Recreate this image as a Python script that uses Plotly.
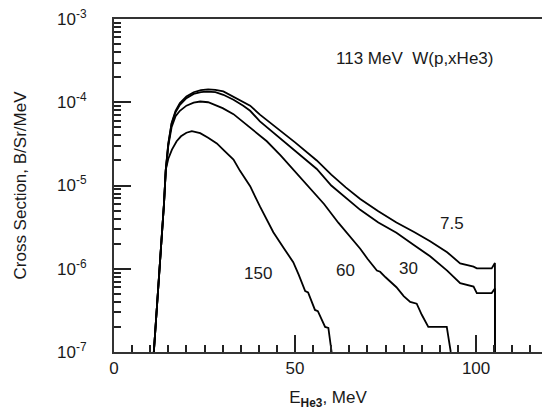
import plotly.graph_objects as go

# ---- data (E in MeV, cross section in B/Sr/MeV) ----
e_75 = [11.0, 12.0, 13.0, 13.8, 14.3, 15.0, 15.9, 17.0, 18.2, 20.0, 22.0, 24.0, 26.0, 28.0, 30.2,
        33.0, 35.7, 37.6, 40.3, 45.0, 50.0, 56.0, 60.0, 64.0, 68.0, 73.0, 78.0, 83.0, 87.3, 92.0,
        95.6, 99.3, 100.2, 104.3, 105.2, 105.2]
y_75 = [1.0e-7, 4.0e-7, 1.8e-6, 6.0e-6, 1.55e-5, 3.2e-5, 5.6e-5, 7.9e-5, 9.8e-5, 1.17e-4, 1.32e-4,
        1.40e-4, 1.43e-4, 1.41e-4, 1.35e-4, 1.17e-4, 1.02e-4, 9.1e-5, 7.1e-5, 4.9e-5, 3.3e-5,
        2.0e-5, 1.35e-5, 9.5e-6, 6.9e-6, 4.9e-6, 3.6e-6, 2.75e-6, 2.14e-6, 1.58e-6, 1.16e-6,
        1.06e-6, 1.01e-6, 1.01e-6, 1.17e-6, 1.0e-7]

e_30 = [11.0, 12.0, 13.0, 13.8, 14.3, 15.0, 15.9, 17.0, 18.2, 20.0, 22.0, 24.0, 25.6, 28.0, 30.2,
        33.0, 35.7, 37.6, 40.3, 45.0, 50.0, 56.0, 60.0, 64.0, 68.0, 73.0, 78.0, 83.0, 87.3, 92.0,
        95.6, 99.3, 100.2, 104.3, 105.2, 105.2]
y_30 = [1.0e-7, 4.0e-7, 1.8e-6, 6.0e-6, 1.55e-5, 3.15e-5, 5.5e-5, 7.6e-5, 9.3e-5, 1.12e-4, 1.26e-4,
        1.32e-4, 1.34e-4, 1.32e-4, 1.23e-4, 1.07e-4, 9.1e-5, 7.9e-5, 5.9e-5, 4.0e-5, 2.63e-5,
        1.58e-5, 1.0e-5, 7.1e-6, 5.1e-6, 3.6e-6, 2.7e-6, 1.9e-6, 1.41e-6, 9.5e-7, 6.7e-7,
        6.1e-7, 5.1e-7, 5.1e-7, 5.8e-7, 1.0e-7]

e_60 = [11.0, 12.0, 13.0, 13.8, 14.3, 15.0, 15.9, 17.0, 18.2, 20.0, 22.0, 23.8, 26.0, 28.0, 30.0,
        33.0, 36.0, 39.0, 42.2, 46.0, 50.0, 54.0, 58.0, 62.0, 65.0, 68.0, 70.0, 72.6, 73.5, 75.0,
        78.0, 80.0, 81.8, 83.6, 85.0, 86.8, 91.9, 93.0]
y_60 = [1.0e-7, 4.0e-7, 1.8e-6, 6.0e-6, 1.5e-5, 3.0e-5, 5.0e-5, 6.8e-5, 7.9e-5, 9.1e-5, 9.9e-5,
        1.02e-4, 1.0e-4, 9.3e-5, 8.5e-5, 7.2e-5, 5.6e-5, 4.4e-5, 3.4e-5, 2.3e-5, 1.48e-5,
        9.5e-6, 6.0e-6, 3.55e-6, 2.5e-6, 1.74e-6, 1.32e-6, 9.5e-7, 9.2e-7, 7.9e-7, 6.0e-7,
        4.7e-7, 4.0e-7, 3.8e-7, 2.8e-7, 2.0e-7, 2.0e-7, 1.0e-7]

e_150 = [11.0, 12.0, 13.0, 13.8, 14.3, 15.0, 16.0, 17.3, 18.5, 20.0, 21.5, 23.8, 26.0, 28.4, 30.5,
         33.0, 34.8, 37.6, 40.3, 44.0, 47.0, 49.5, 51.0, 52.8, 53.6, 55.5, 56.3, 58.3, 59.2, 60.1]
y_150 = [1.0e-7, 4.0e-7, 1.8e-6, 6.0e-6, 1.55e-5, 2.1e-5, 2.7e-5, 3.4e-5, 3.9e-5, 4.3e-5, 4.5e-5,
         4.25e-5, 3.75e-5, 3.2e-5, 2.6e-5, 2.05e-5, 1.5e-5, 9.8e-6, 5.6e-6, 2.75e-6, 1.74e-6,
         1.2e-6, 8.5e-7, 5.4e-7, 5.2e-7, 3.2e-7, 3.1e-7, 2.0e-7, 1.95e-7, 1.0e-7]

curve_names = ["7.5", "30", "60", "150"]
curve_e = [e_75, e_30, e_60, e_150]
curve_y = [y_75, y_30, y_60, y_150]

# label positions (E, log10 sigma)
label_e = [93.4, 81.3, 64.0, 39.9]
label_logy = [-5.454, -5.995, -6.015, -6.063]

x_ticks = [0, 50, 100]
y_ticks = [1e-7, 1e-6, 1e-5, 1e-4, 1e-3]
y_ticktext = ["10<sup>-7</sup>", "10<sup>-6</sup>", "10<sup>-5</sup>", "10<sup>-4</sup>", "10<sup>-3</sup>"]
y_decades = [-7, -6, -5, -4]
y_minor_digits = [2, 3, 4, 5, 6, 7, 8, 9]
y_minor_ticks = [m * 10.0 ** d for d in y_decades for m in y_minor_digits]

title_text = "113 MeV&nbsp;&nbsp;W(p,xHe3)"
FONT = "Liberation Sans, Arial, sans-serif"
INK = "#1a1a1a"
FS = 17

fig = go.Figure()
for name, ex, ey in zip(curve_names, curve_e, curve_y):
    fig.add_trace(go.Scatter(x=ex, y=ey, mode="lines", name=name,
                             line=dict(color="black", width=1.8), showlegend=False,
                             hoverinfo="skip"))

for name, lx, ly in zip(curve_names, label_e, label_logy):
    fig.add_annotation(x=lx, y=ly, xref="x", yref="y", text=name, showarrow=False,
                       font=dict(family=FONT, size=FS, color=INK))

fig.add_annotation(x=82.9, y=-3.472, xref="x", yref="y", text=title_text, showarrow=False,
                   font=dict(family=FONT, size=FS, color=INK))

fig.update_layout(
    width=542, height=410,
    margin=dict(l=114, r=0, t=19, b=58),
    paper_bgcolor="white", plot_bgcolor="white",
    font=dict(family=FONT, size=FS, color=INK),
    xaxis=dict(
        range=[0, 118.2], tickvals=x_ticks, ticks="inside", ticklen=17, tickwidth=1.5,
        tickcolor="#222", showline=True, linewidth=2, linecolor="#333", mirror=True,
        showgrid=False, zeroline=False,
        minor=dict(dtick=5, tick0=0, ticks="inside", ticklen=7, tickwidth=1.5, tickcolor="#222",
                   showgrid=False),
        tickfont=dict(family=FONT, size=FS, color=INK),
        title=dict(text="E<sub><b>He3</b></sub>, MeV", font=dict(family=FONT, size=FS, color=INK),
                   standoff=14),
    ),
    yaxis=dict(
        type="log", range=[-7, -3], tickvals=y_ticks, ticktext=y_ticktext,
        ticks="inside", ticklen=17, tickwidth=1.5, tickcolor="#222",
        showline=True, linewidth=2, linecolor="#333", showgrid=False, zeroline=False,
        minor=dict(tickmode="array", tickvals=y_minor_ticks, ticks="inside", ticklen=7,
                   tickwidth=1.5, tickcolor="#222", showgrid=False),
        tickfont=dict(family=FONT, size=FS, color=INK),
        ticklabelstandoff=22,
        title=dict(text="Cross Section, B/Sr/MeV", font=dict(family=FONT, size=FS, color=INK),
                   standoff=26),
    ),
)

fig.write_html("out.html")
